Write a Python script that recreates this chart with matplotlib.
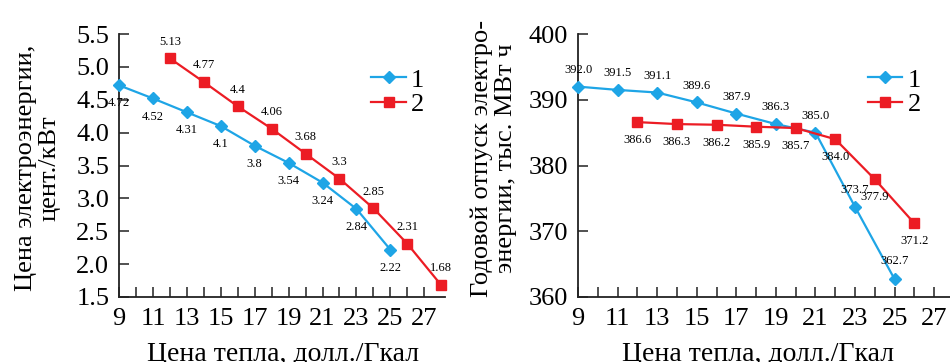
import matplotlib
matplotlib.use("Agg")
import matplotlib.pyplot as plt

# left panel: electricity price
x1_left = [9, 11, 13, 15, 17, 19, 21, 23, 25]
price_1 = [4.72, 4.52, 4.31, 4.1, 3.8, 3.54, 3.24, 2.84, 2.22]
price_1_lbl = ["4.72", "4.52", "4.31", "4.1", "3.8", "3.54", "3.24", "2.84", "2.22"]
x2_left = [12, 14, 16, 18, 20, 22, 24, 26, 28]
price_2 = [5.13, 4.77, 4.4, 4.06, 3.68, 3.3, 2.85, 2.31, 1.68]
price_2_lbl = ["5.13", "4.77", "4.4", "4.06", "3.68", "3.3", "2.85", "2.31", "1.68"]

# right panel: annual electricity output
x1_right = [9, 11, 13, 15, 17, 19, 21, 23, 25]
supply_1 = [392.0, 391.5, 391.1, 389.6, 387.9, 386.3, 385.0, 373.7, 362.7]
x2_right = [12, 14, 16, 18, 20, 22, 24, 26]
supply_2 = [386.6, 386.3, 386.2, 385.9, 385.7, 384.0, 377.9, 371.2]

BLUE = "#1ea5e6"
RED = "#ec1c24"

plt.rcParams["font.family"] = ["Liberation Serif", "DejaVu Serif"]

fig = plt.figure(figsize=(9.5, 3.62), dpi=100)
ax1 = fig.add_axes([0.1253, 0.1796, 0.3427, 0.7264])
ax2 = fig.add_axes([0.6085, 0.1796, 0.3915, 0.7264])


def style(ax, xmax, ylim, yticks, yfmt):
    for s in ["top", "right"]:
        ax.spines[s].set_visible(False)
    for s in ["left", "bottom"]:
        ax.spines[s].set_linewidth(1.3)
        ax.spines[s].set_color("#222222")
    ax.set_xlim(9, xmax)
    ax.set_ylim(*ylim)
    ax.set_xticks(range(9, 28, 2))
    ax.set_xticks(range(10, 28, 2), minor=True)
    ax.set_yticks(yticks)
    ax.set_yticklabels([yfmt.format(v) for v in yticks])
    ax.tick_params(axis="both", which="both", direction="in", length=7,
                   width=1.1, labelsize=19, color="#222222")
    ax.tick_params(axis="x", pad=8)
    ax.tick_params(axis="y", pad=7)
    ax.patch.set_alpha(0)


style(ax1, 28.2, (1.5, 5.5), [1.5, 2.0, 2.5, 3.0, 3.5, 4.0, 4.5, 5.0, 5.5], "{:.1f}")
style(ax2, 27.8, (360, 400), [360, 370, 380, 390, 400], "{:.0f}")

kw1 = dict(color=BLUE, marker="D", markersize=6, linewidth=1.6, clip_on=False, zorder=3)
kw2 = dict(color=RED, marker="s", markersize=7, linewidth=1.6, clip_on=False, zorder=3)

ax1.plot(x1_left, price_1, label="1", **kw1)
ax1.plot(x2_left, price_2, label="2", **kw2)
ax2.plot(x1_right, supply_1, label="1", **kw1)
ax2.plot(x2_right, supply_2, label="2", **kw2)

lab = dict(fontsize=9, ha="center", va="center", textcoords="offset points", zorder=4)
for x, y, t in zip(x1_left, price_1, price_1_lbl):
    ax1.annotate(t, (x, y), xytext=(0, -13), **lab)
for x, y, t in zip(x2_left, price_2, price_2_lbl):
    ax1.annotate(t, (x, y), xytext=(0, 12), **lab)

sup1_off = [12, 12, 12, 12, 12, 12, 12, 12, 13]
for x, y, dy in zip(x1_right, supply_1, sup1_off):
    ax2.annotate(f"{y:.1f}", (x, y), xytext=(0, dy), **lab)
for x, y in zip(x2_right, supply_2):
    ax2.annotate(f"{y:.1f}", (x, y), xytext=(0, -13), **lab)

for ax, lx in [(ax1, 0.775), (ax2, 0.78)]:
    ax.legend(loc="upper left", bbox_to_anchor=(lx, 0.87), frameon=False,
              fontsize=19, handlelength=1.3, handletextpad=0.2,
              labelspacing=0.05, borderpad=0, borderaxespad=0)

fig.text(0.040, 0.536, "Цена электроэнергии,\nцент./кВт", rotation=90,
         ha="center", va="center", fontsize=19, linespacing=1.1)
fig.text(0.52, 0.563, "Годовой отпуск электро-\nэнергии, тыс. МВт ч", rotation=90,
         ha="center", va="center", fontsize=19, linespacing=1.1)
fig.text(0.298, 0.003, "Цена тепла, долл./Гкал", ha="center", va="baseline", fontsize=20)
fig.text(0.798, 0.003, "Цена тепла, долл./Гкал", ha="center", va="baseline", fontsize=20)

fig.savefig("out.png", dpi=100)
